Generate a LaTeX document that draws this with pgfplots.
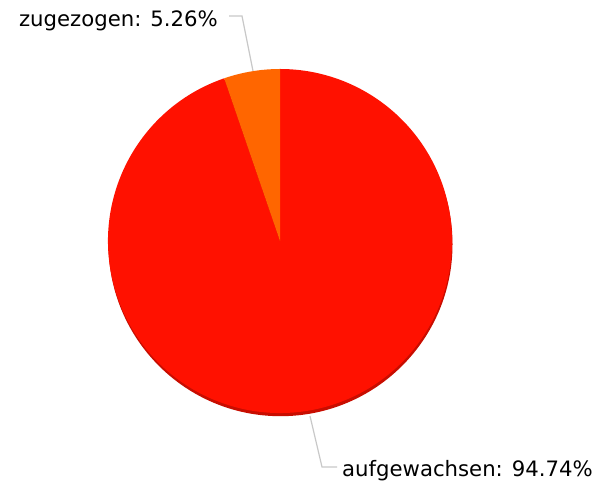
\documentclass[border=0pt]{standalone}
\usepackage{pgfplots}
\pgfplotsset{compat=1.18}
\usepackage{fontspec}
\setmainfont{DejaVu Sans}
\definecolor{redslice}{HTML}{FF1100}
\definecolor{orangeslice}{HTML}{FF6600}
\definecolor{shadowred}{HTML}{C80D00}
\definecolor{leader}{HTML}{C8C8C8}
\begin{document}
\begin{tikzpicture}
% slice values (percent)
\def\vA{94.74}% aufgewachsen
\def\vB{5.26}% zugezogen
\pgfmathsetmacro{\aB}{90+3.6*\vB}
\begin{axis}[
  width=596bp, height=488bp, scale only axis,
  xmin=0, xmax=596, ymin=0, ymax=488,
  hide axis, clip=false,
]
\path (axis cs:0,0) -- (axis cs:596,488);
% shadow
\fill[shadowred] (axis cs:280.5,243.8) circle[radius=172];
% slices
\fill[redslice] (axis cs:280,247) -- ++(\aB:172bp) arc[start angle=\aB, end angle=450, radius=172bp] -- cycle;
\fill[orangeslice] (axis cs:280,247) -- ++(90:172bp) arc[start angle=90, end angle=\aB, radius=172bp] -- cycle;
% leader lines
\draw[leader, line width=1.2bp] (axis cs:229,472) -- (axis cs:242,472) -- (axis cs:253,417);
\draw[leader, line width=1.2bp] (axis cs:310,72) -- (axis cs:322,21) -- (axis cs:337,21);
% labels
\node[anchor=base east, inner sep=0pt, font=\fontsize{21.3}{25}\selectfont, text=black] at (axis cs:218,461) {zugezogen: 5.26\%};
\node[anchor=base west, inner sep=0pt, font=\fontsize{21.3}{25}\selectfont, text=black] at (axis cs:342,12) {aufgewachsen: 94.74\%};
\end{axis}
\end{tikzpicture}
\end{document}
